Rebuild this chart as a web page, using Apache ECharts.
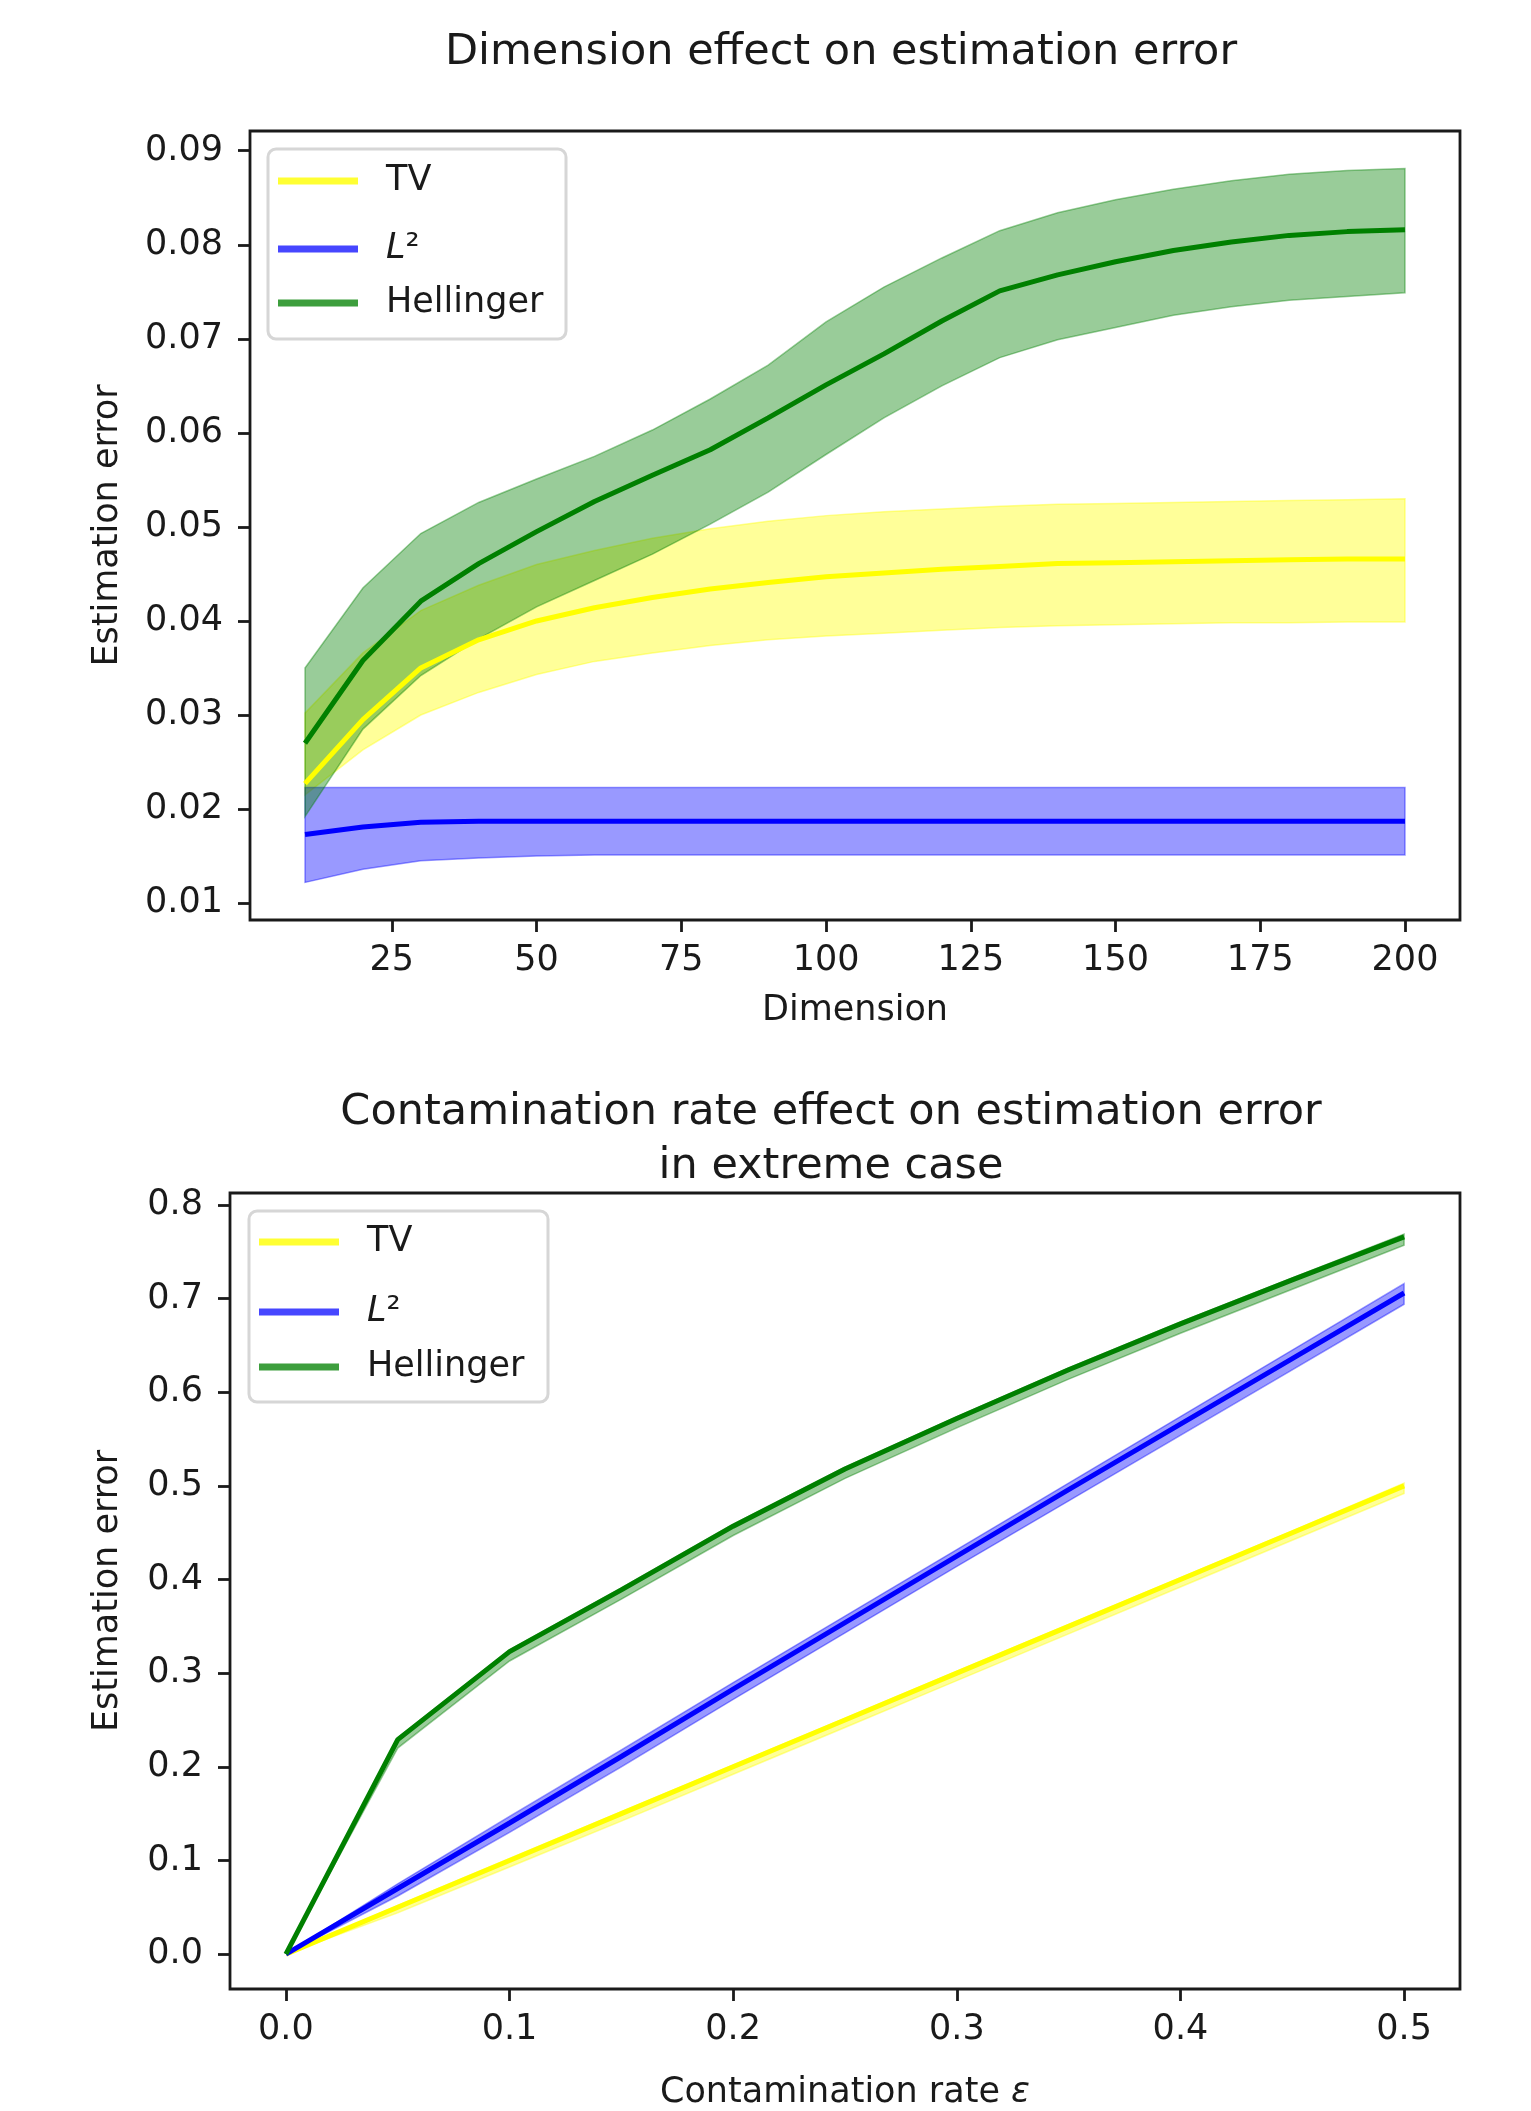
<!DOCTYPE html>
<html>
<head>
<meta charset="utf-8">
<script src="https://cdn.jsdelivr.net/npm/echarts@6/dist/echarts.min.js"></script>
<style>
  html, body { margin: 0; padding: 0; background: #fff; }
  #main { width: 1531px; height: 2111px; }
</style>
</head>
<body>
<div id="main"></div>
<script>
// ---- top chart: dimension effect ----
var dims = [10, 20, 30, 40, 50, 60, 70, 80, 90, 100, 110, 120, 130, 140, 150, 160, 170, 180, 190, 200];

var tvMean  = [0.0227, 0.0295, 0.0350, 0.0380, 0.0400, 0.0414, 0.0425, 0.0434, 0.0441, 0.0447, 0.0451, 0.0455, 0.0458, 0.0461, 0.0462, 0.0463, 0.0464, 0.0465, 0.0466, 0.0466];
var tvUpper = [0.0302, 0.0366, 0.0411, 0.0438, 0.0460, 0.0475, 0.0488, 0.0498, 0.0506, 0.0512, 0.0516, 0.0519, 0.0522, 0.0524, 0.0525, 0.0526, 0.0527, 0.0528, 0.0529, 0.0530];
var tvLower = [0.0215, 0.0263, 0.0300, 0.0324, 0.0343, 0.0357, 0.0366, 0.0374, 0.0380, 0.0384, 0.0387, 0.0390, 0.0393, 0.0395, 0.0396, 0.0397, 0.0398, 0.0398, 0.0399, 0.0399];

var l2Mean  = [0.0173, 0.0181, 0.0186, 0.0187, 0.0187, 0.0187, 0.0187, 0.0187, 0.0187, 0.0187, 0.0187, 0.0187, 0.0187, 0.0187, 0.0187, 0.0187, 0.0187, 0.0187, 0.0187, 0.0187];
var l2Upper = [0.0223, 0.0223, 0.0223, 0.0223, 0.0223, 0.0223, 0.0223, 0.0223, 0.0223, 0.0223, 0.0223, 0.0223, 0.0223, 0.0223, 0.0223, 0.0223, 0.0223, 0.0223, 0.0223, 0.0223];
var l2Lower = [0.0122, 0.0136, 0.0145, 0.0148, 0.0150, 0.0151, 0.0151, 0.0151, 0.0151, 0.0151, 0.0151, 0.0151, 0.0151, 0.0151, 0.0151, 0.0151, 0.0151, 0.0151, 0.0151, 0.0151];

var helMean  = [0.0270, 0.0358, 0.0421, 0.0461, 0.0495, 0.0527, 0.0555, 0.0582, 0.0616, 0.0651, 0.0684, 0.0719, 0.0751, 0.0768, 0.0782, 0.0794, 0.0803, 0.0810, 0.0814, 0.0816];
var helUpper = [0.0350, 0.0435, 0.0493, 0.0526, 0.0551, 0.0575, 0.0603, 0.0636, 0.0672, 0.0718, 0.0755, 0.0786, 0.0815, 0.0834, 0.0848, 0.0859, 0.0868, 0.0875, 0.0879, 0.0881];
var helLower = [0.0192, 0.0285, 0.0342, 0.0381, 0.0415, 0.0443, 0.0471, 0.0503, 0.0537, 0.0577, 0.0616, 0.0650, 0.0680, 0.0699, 0.0712, 0.0725, 0.0734, 0.0741, 0.0745, 0.0749];

var dimTicks = [25, 50, 75, 100, 125, 150, 175, 200];
var errTicksTop = [0.01, 0.02, 0.03, 0.04, 0.05, 0.06, 0.07, 0.08, 0.09];

// ---- bottom chart: contamination rate ----
var rates = [0, 0.05, 0.1, 0.15, 0.2, 0.25, 0.3, 0.35, 0.4, 0.45, 0.5];

var tvMeanC  = [0, 0.050, 0.100, 0.150, 0.200, 0.250, 0.300, 0.350, 0.400, 0.450, 0.500];
var tvUpperC = [0, 0.052, 0.102, 0.152, 0.202, 0.252, 0.302, 0.352, 0.402, 0.452, 0.503];
var tvLowerC = [0, 0.044, 0.093, 0.142, 0.192, 0.242, 0.292, 0.342, 0.392, 0.442, 0.492];

var l2MeanC  = [0, 0.070, 0.140, 0.211, 0.283, 0.354, 0.425, 0.496, 0.566, 0.636, 0.706];
var l2UpperC = [0, 0.075, 0.147, 0.218, 0.290, 0.361, 0.432, 0.503, 0.574, 0.645, 0.716];
var l2LowerC = [0, 0.062, 0.130, 0.200, 0.272, 0.343, 0.414, 0.484, 0.554, 0.624, 0.694];

var helMeanC  = [0, 0.229, 0.323, 0.389, 0.457, 0.518, 0.572, 0.624, 0.673, 0.720, 0.766];
var helUpperC = [0, 0.231, 0.325, 0.391, 0.459, 0.520, 0.574, 0.626, 0.675, 0.722, 0.769];
var helLowerC = [0, 0.220, 0.313, 0.379, 0.447, 0.508, 0.562, 0.614, 0.663, 0.710, 0.757];

var rateTicks = [0, 0.1, 0.2, 0.3, 0.4, 0.5];
var errTicksBottom = [0, 0.1, 0.2, 0.3, 0.4, 0.5, 0.6, 0.7, 0.8];

var FONT = 'DejaVu Sans';
var INK = '#1a1a1a';

function pairs(xs, ys) {
    return xs.map(function (x, i) { return [x, ys[i]]; });
}

// fill_between as one polygon, points go through the axis scales (api.coord)
function band(id, xs, lo, hi, fill, axis) {
    return {
        name: id, type: 'custom', silent: true, z: 2,
        xAxisIndex: axis, yAxisIndex: axis,
        data: xs.map(function (x, i) { return [x, lo[i], hi[i]]; }),
        encode: { x: 0, y: [1, 2] },
        renderItem: function (params, api) {
            if (params.dataIndex !== 0) return null;
            var pts = [];
            for (var i = 0; i < xs.length; i++) pts.push(api.coord([xs[i], hi[i]]));
            for (var j = xs.length - 1; j >= 0; j--) pts.push(api.coord([xs[j], lo[j]]));
            return {
                type: 'polygon',
                shape: { points: pts },
                style: { fill: fill, stroke: fill, lineWidth: 1.5 }
            };
        }
    };
}

function meanLine(name, xs, ys, color, axis) {
    return {
        name: name, type: 'line', data: pairs(xs, ys), symbol: 'none',
        xAxisIndex: axis, yAxisIndex: axis, z: 3,
        lineStyle: { color: color, width: 5 }, itemStyle: { color: color }
    };
}

function legendRow(name, color, left, rowY) {
    return {
        data: [{ name: name, icon: 'rect', itemStyle: { color: color } }],
        left: left, top: rowY - 20, padding: 0,
        itemWidth: 80, itemHeight: 7, selectedMode: false, z: 6,
        formatter: name === 'L2' ? '{i|L}{n|²}' : '{n|' + name + '}',
        textStyle: {
            fontFamily: FONT, fontSize: 35, color: INK, lineHeight: 40,
            padding: [0, 0, 0, 23],
            rich: {
                i: { fontFamily: FONT, fontSize: 35, fontStyle: 'italic', color: INK, lineHeight: 40 },
                n: { fontFamily: FONT, fontSize: 35, color: INK, lineHeight: 40 }
            }
        }
    };
}

var tickStyle = { show: true, length: 12, lineStyle: { color: INK, width: 2.8 } };
var labelStyle = { fontFamily: FONT, fontSize: 35, color: INK };
var noLine = { show: false, onZero: false };

var chart = echarts.init(document.getElementById('main'), null, { renderer: 'canvas' });

chart.setOption({
    animation: false,
    backgroundColor: '#fff',
    title: [
        {
            text: 'Dimension effect on estimation error',
            left: 836, top: 21, textAlign: 'center',
            textStyle: { fontFamily: FONT, fontSize: 43, fontWeight: 'normal', color: INK, lineHeight: 54 }
        },
        {
            text: 'Contamination rate effect on estimation error\nin extreme case',
            left: 826, top: 1081, textAlign: 'center',
            textStyle: { fontFamily: FONT, fontSize: 43, fontWeight: 'normal', color: INK, lineHeight: 54 }
        }
    ],
    grid: [
        { left: 250, top: 131, width: 1210, height: 789, show: true, borderColor: INK, borderWidth: 2.8, backgroundColor: 'transparent' },
        { left: 230, top: 1193, width: 1230, height: 798, show: true, borderColor: INK, borderWidth: 2.8, backgroundColor: 'transparent' }
    ],
    xAxis: [
        {
            type: 'value', gridIndex: 0, min: 0.5, max: 209.5,
            name: 'Dimension', nameLocation: 'middle', nameGap: 73,
            nameTextStyle: { fontFamily: FONT, fontSize: 35, color: INK },
            axisLine: noLine, splitLine: { show: false },
            axisTick: Object.assign({ customValues: dimTicks }, tickStyle),
            axisLabel: Object.assign({ customValues: dimTicks, margin: 23 }, labelStyle)
        },
        {
            type: 'value', gridIndex: 1, min: -0.025, max: 0.525,
            name: 'Contamination rate {i|ε}', nameLocation: 'middle', nameGap: 86,
            nameTextStyle: {
                fontFamily: FONT, fontSize: 35, color: INK,
                rich: { i: { fontFamily: FONT, fontSize: 35, fontStyle: 'italic', color: INK } }
            },
            axisLine: noLine, splitLine: { show: false },
            axisTick: Object.assign({ customValues: rateTicks }, tickStyle),
            axisLabel: Object.assign({
                customValues: rateTicks, margin: 23,
                formatter: function (v) { return v.toFixed(1); }
            }, labelStyle)
        }
    ],
    yAxis: [
        {
            type: 'value', gridIndex: 0, min: 0.0082, max: 0.0921,
            name: 'Estimation error', nameLocation: 'middle', nameGap: 125,
            nameTextStyle: { fontFamily: FONT, fontSize: 35, color: INK },
            axisLine: noLine, splitLine: { show: false },
            axisTick: Object.assign({ customValues: errTicksTop }, tickStyle),
            axisLabel: Object.assign({
                customValues: errTicksTop, margin: 27,
                formatter: function (v) { return v.toFixed(2); }
            }, labelStyle)
        },
        {
            type: 'value', gridIndex: 1, min: -0.0373, max: 0.8128,
            name: 'Estimation error', nameLocation: 'middle', nameGap: 105,
            nameTextStyle: { fontFamily: FONT, fontSize: 35, color: INK },
            axisLine: noLine, splitLine: { show: false },
            axisTick: Object.assign({ customValues: errTicksBottom }, tickStyle),
            axisLabel: Object.assign({
                customValues: errTicksBottom, margin: 27,
                formatter: function (v) { return v.toFixed(1); }
            }, labelStyle)
        }
    ],
    legend: [
        legendRow('TV', '#ffff33', 278, 181),
        legendRow('L2', '#4646ff', 278, 249),
        legendRow('Hellinger', '#3d9e3d', 278, 303),
        legendRow('TV', '#ffff33', 259, 1242),
        legendRow('L2', '#4646ff', 259, 1312),
        legendRow('Hellinger', '#3d9e3d', 259, 1367)
    ],
    graphic: [
        {
            type: 'rect', z: 5, silent: true,
            shape: { x: 268, y: 149, width: 298, height: 190, r: 8 },
            style: { fill: 'rgba(255,255,255,0.8)', stroke: '#d6d6d6', lineWidth: 3 }
        },
        {
            type: 'rect', z: 5, silent: true,
            shape: { x: 249, y: 1211, width: 299, height: 191, r: 8 },
            style: { fill: 'rgba(255,255,255,0.8)', stroke: '#d6d6d6', lineWidth: 3 }
        }
    ],
    series: [
        band('tvTop', dims, tvLower, tvUpper, 'rgba(255,255,0,0.4)', 0),
        band('l2Top', dims, l2Lower, l2Upper, 'rgba(0,0,255,0.4)', 0),
        band('helTop', dims, helLower, helUpper, 'rgba(0,128,0,0.4)', 0),
        meanLine('TV', dims, tvMean, '#ffff00', 0),
        meanLine('L2', dims, l2Mean, '#0000ff', 0),
        meanLine('Hellinger', dims, helMean, '#008000', 0),
        band('tvBot', rates, tvLowerC, tvUpperC, 'rgba(255,255,0,0.4)', 1),
        band('l2Bot', rates, l2LowerC, l2UpperC, 'rgba(0,0,255,0.4)', 1),
        band('helBot', rates, helLowerC, helUpperC, 'rgba(0,128,0,0.4)', 1),
        meanLine('TV', rates, tvMeanC, '#ffff00', 1),
        meanLine('L2', rates, l2MeanC, '#0000ff', 1),
        meanLine('Hellinger', rates, helMeanC, '#008000', 1)
    ]
});
</script>
</body>
</html>
